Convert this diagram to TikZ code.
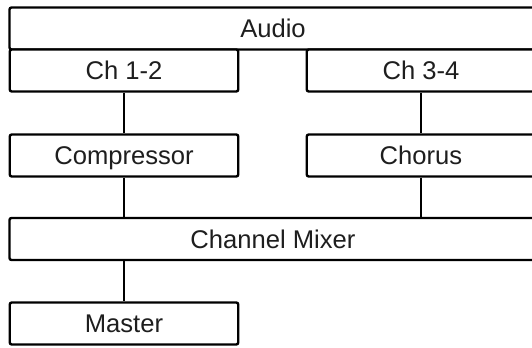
\documentclass[tikz,border=0pt]{standalone}
\usepackage{fontspec}
\setmainfont{Liberation Sans}
\usepackage{tikz}
\usetikzlibrary{positioning,calc}
\definecolor{boxline}{RGB}{0,0,0}
\definecolor{boxtext}{RGB}{30,30,30}

\begin{document}
\begin{tikzpicture}[x=0.5pt,y=-0.5pt,
    unit/.style={draw=boxline,line width=1.2pt,rounded corners=1pt,fill=white,
      minimum height=21pt,inner sep=0pt,text=boxtext,
      text height=9.1pt,text depth=0pt,
      font=\fontsize{12.8}{14}\selectfont},
    half/.style={unit,minimum width=114.25pt},
    full/.style={unit,minimum width=263.5pt},
    wire/.style={draw=boxline,line width=1.2pt}]
    \useasboundingbox (0,0) rectangle (532,348);
    \clip (0,0) rectangle (532,348);
    % Sources
    \node[full] (audio) at (273,28.5) {Audio};
    \node[half] (ch12) at (124,70.5) {Ch 1-2};
    \node[half] (ch34) at (421,70.5) {Ch 3-4};
    % Effects
    \node[half] (comp) at (124,155.5) {Compressor};
    \node[half] (chorus) at (421,155.5) {Chorus};
    % Mix and output
    \node[full] (mixer) at (273,239) {Channel Mixer};
    \node[half] (master) at (124,323.5) {Master};
    % Connections
    \draw[wire] (ch12.south)--(comp.north) (ch34.south)--(chorus.north);
    \draw[wire] (comp.south)--(comp.south |- mixer.north);
    \draw[wire] (chorus.south)--(chorus.south |- mixer.north);
    \draw[wire] (master.north |- mixer.south)--(master.north);
\end{tikzpicture}
\end{document}
